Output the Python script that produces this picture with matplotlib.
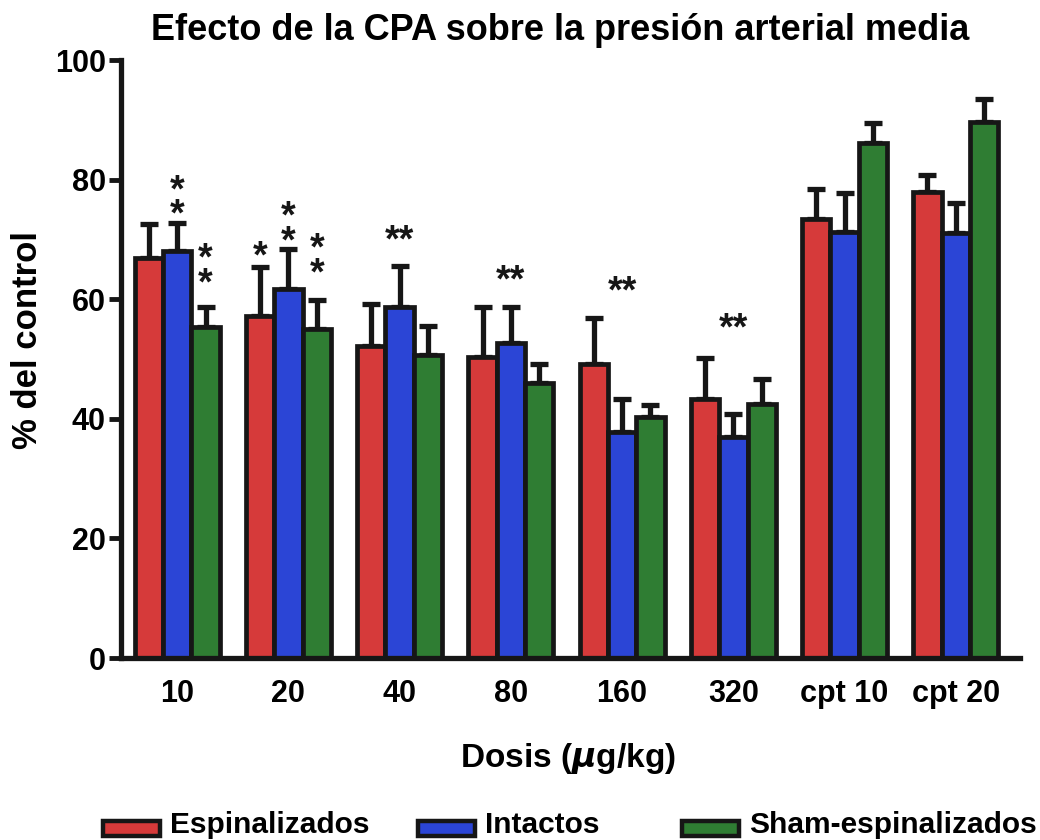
import numpy as np
import matplotlib.pyplot as plt
from matplotlib.patches import Rectangle

# dosis de CPA y controles
dosis = ["10", "20", "40", "80", "160", "320", "cpt 10", "cpt 20"]
grupos = ["Espinalizados", "Intactos", "Sham-espinalizados"]
colores = ["#d63a3a", "#2b45d6", "#2f7d33"]

# % del control (media) y error estandar por grupo
espinalizados = [66.9, 57.2, 52.2, 50.3, 49.2, 43.3, 73.4, 77.9]
intactos = [68.1, 61.7, 58.7, 52.7, 37.8, 37.0, 71.2, 71.1]
sham = [55.4, 55.0, 50.7, 46.0, 40.3, 42.5, 86.1, 89.6]
err_espinalizados = [5.7, 8.2, 7.0, 8.4, 7.7, 6.9, 5.0, 2.9]
err_intactos = [4.6, 6.7, 6.9, 6.0, 5.5, 3.8, 6.6, 5.0]
err_sham = [3.3, 4.9, 4.8, 3.2, 2.0, 4.2, 3.4, 3.9]

# asteriscos de significancia: (dosis, grupo, altura, texto)
asteriscos = [
    (0, 1, 76.0, "*\n*"),
    (0, 2, 64.5, "*\n*"),
    (1, 0, 67.0, "*"),
    (1, 1, 71.6, "*\n*"),
    (1, 2, 66.2, "*\n*"),
    (2, 1, 69.6, "**"), (3, 1, 62.9, "**"),
    (4, 1, 61.1, "**"), (5, 1, 54.9, "**"),
]

fuente = ["Liberation Sans", "DejaVu Sans"]
plt.rcParams["font.family"] = fuente
plt.rcParams["font.weight"] = "bold"
plt.rcParams["axes.labelweight"] = "bold"

fig = plt.figure(figsize=(10.4, 8.4), dpi=100)
ax = fig.add_axes([121 / 1040, 182 / 840, 899 / 1040, 598 / 840])

x = np.arange(len(dosis))
w = 0.255
series = [espinalizados, intactos, sham]
errores = [err_espinalizados, err_intactos, err_sham]
for k in range(3):
    pos = x + (k - 1) * w
    ax.errorbar(pos, series[k], yerr=[np.zeros(len(dosis)), errores[k]],
                fmt="none", ecolor="#161616", elinewidth=3.8,
                capsize=6.5, capthick=3.8, zorder=1)
    ax.bar(pos, series[k], width=w, color=colores[k], edgecolor="#161616",
           linewidth=3.4, zorder=2)

for g, s, y, t in asteriscos:
    ax.text(x[g] + (s - 1) * w, y, t, ha="center", va="center",
            fontsize=27, linespacing=0.6, color="#161616")

ax.set_xlim(-0.505, 7.577)
ax.set_ylim(0, 100)
ax.set_yticks([0, 20, 40, 60, 80, 100])
ax.set_xticks(x)
ax.set_xticklabels(dosis)
ax.tick_params(axis="y", length=9, width=3.5, labelsize=22, pad=2, color="#161616")
ax.tick_params(axis="x", length=0, labelsize=22, pad=15)
for spine in ["top", "right"]:
    ax.spines[spine].set_visible(False)
for spine in ["left", "bottom"]:
    ax.spines[spine].set_linewidth(3.8)
    ax.spines[spine].set_color("#161616")

ax.set_ylabel("% del control", fontsize=25)
ax.yaxis.set_label_coords(-0.086, 0.532)
fig.text(568 / 1040, 1 - 758 / 840, "Dosis ($\\mu$g/kg)", ha="center", va="center",
         fontsize=24)
fig.text(560 / 1040, 1 - 31 / 840, "Efecto de la CPA sobre la presión arterial media",
         ha="center", va="center", fontsize=26)

# leyenda dibujada a mano en la parte inferior
legend_x = [103, 418, 682]
for k in range(3):
    x0 = legend_x[k]
    fig.add_artist(Rectangle((x0 / 1040, 1 - 836 / 840), 57 / 1040, 15 / 840,
                             transform=fig.transFigure, facecolor=colores[k],
                             edgecolor="#161616", linewidth=3.2))
    fig.text((x0 + 67) / 1040, 1 - 833 / 840, grupos[k], ha="left", va="baseline",
             fontsize=21.5)

fig.savefig("out.png", dpi=100)
